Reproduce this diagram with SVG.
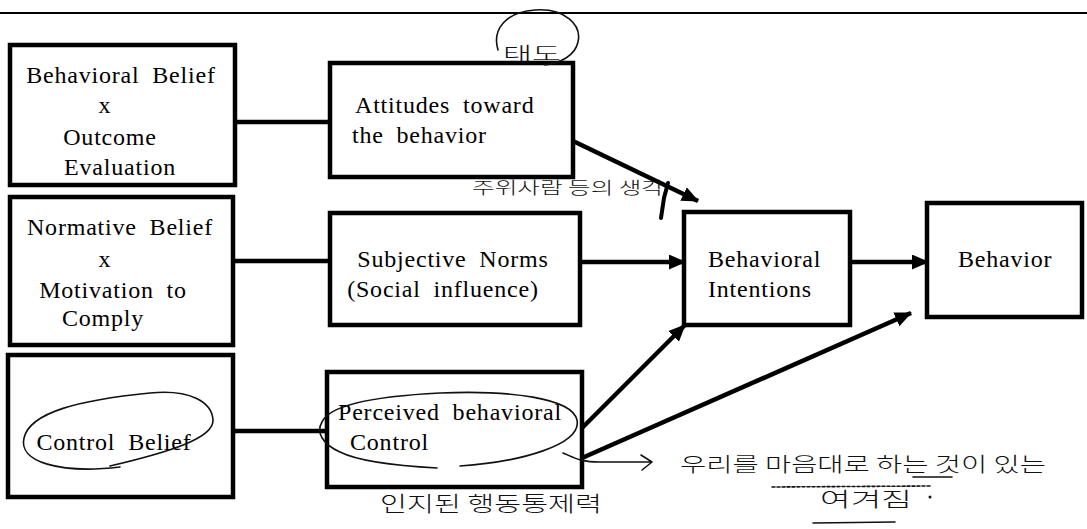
<svg xmlns="http://www.w3.org/2000/svg" width="1087" height="529" viewBox="0 0 1087 529">
<style>
.box{fill:#fff;stroke:#000;stroke-width:4.5}
.t,.ts{font-size:24px;fill:#000;letter-spacing:0.8px;word-spacing:6px}
.t{text-anchor:middle}
.ln{stroke:#000;stroke-width:4.5;fill:none}
.hand{stroke:#111;stroke-width:1.6;fill:none;stroke-linecap:round;stroke-linejoin:round}
.ht{font-family:"Noto Sans CJK KR","Noto Sans",sans-serif;font-weight:300;fill:#111}
</style>
<defs>
<marker id="ah" markerUnits="userSpaceOnUse" markerWidth="17" markerHeight="15" refX="16" refY="7.5" orient="auto">
<path d="M0,0 L17,7.5 L0,15 z" fill="#000"/>
</marker>
</defs>
<rect width="1087" height="529" fill="#fff"/>
<line x1="0" y1="13" x2="1087" y2="13" stroke="#000" stroke-width="2"/>

<g id="connectors">
<line class="ln" x1="235" y1="122" x2="330" y2="122"/>
<line class="ln" x1="233" y1="261" x2="330" y2="261"/>
<line class="ln" x1="233" y1="431" x2="327" y2="431"/>
<line class="ln" x1="573" y1="141" x2="698" y2="201" marker-end="url(#ah)"/>
<line class="ln" x1="580" y1="262" x2="685" y2="262" marker-end="url(#ah)"/>
<line class="ln" x1="582" y1="428" x2="685" y2="325" marker-end="url(#ah)"/>
<line class="ln" x1="582" y1="458" x2="911" y2="313" marker-end="url(#ah)"/>
<line class="ln" x1="850" y1="262" x2="928" y2="262" marker-end="url(#ah)"/>
</g>

<g font-family="Liberation Serif, Tinos, Times New Roman, DejaVu Serif, serif">
<g id="behavioral-belief">
<rect class="box" x="10" y="45" width="225" height="140"/>
<text class="t" x="121" y="83">Behavioral Belief</text>
<text class="t" x="105" y="113">x</text>
<text class="t" x="110" y="145">Outcome</text>
<text class="t" x="120" y="175">Evaluation</text>
</g>
<g id="normative-belief">
<rect class="box" x="10" y="197" width="223" height="148"/>
<text class="t" x="120" y="235">Normative Belief</text>
<text class="t" x="105" y="267">x</text>
<text class="t" x="113" y="298">Motivation to</text>
<text class="t" x="103" y="326">Comply</text>
</g>
<g id="control-belief">
<rect class="box" x="8" y="355" width="225" height="142"/>
<text class="t" x="114" y="450">Control Belief</text>
</g>
<g id="attitudes">
<rect class="box" x="330" y="63" width="243" height="114"/>
<text class="ts" x="355" y="113">Attitudes toward</text>
<text class="ts" x="352" y="143">the behavior</text>
</g>
<g id="subjective-norms">
<rect class="box" x="330" y="213" width="250" height="112"/>
<text class="t" x="453" y="267">Subjective Norms</text>
<text class="t" x="443" y="297">(Social influence)</text>
</g>
<g id="perceived-control">
<rect class="box" x="327" y="372" width="255" height="115"/>
<text class="ts" x="338" y="420">Perceived behavioral</text>
<text class="ts" x="350" y="450">Control</text>
</g>
<g id="behavioral-intentions">
<rect class="box" x="684" y="212" width="166" height="113"/>
<text class="ts" x="708" y="267">Behavioral</text>
<text class="ts" x="708" y="297">Intentions</text>
</g>
<g id="behavior">
<rect class="box" x="927" y="203" width="155" height="114"/>
<text class="ts" x="958" y="267">Behavior</text>
</g>
</g>

<g id="annotations">
<path class="hand" d="M120,467 C60,474 18,462 24,438 C30,412 80,400 150,393 C190,389 212,402 213,420 C214,438 170,452 110,466"/>
<path class="hand" d="M437,468 C400,466 360,462 340,452 C322,444 316,432 322,422 C330,404 380,396 440,393 C510,390 572,398 577,420 C582,445 520,462 460,466"/>
<path class="hand" d="M563,453 C575,458 580,462 600,462 L652,462 M641,455 L652,462 L642,470"/>
<path class="hand" d="M498,50 C492,30 505,12 535,10 C565,8 582,25 578,42 C575,56 560,63 545,65"/>
<text class="ht" x="503" y="61" font-size="19" textLength="58" lengthAdjust="spacingAndGlyphs">태도</text>
<text class="ht" x="472" y="194" font-size="17" textLength="192" lengthAdjust="spacingAndGlyphs">주위사람 등의 생각</text>
<path d="M668,183 L664,198 L661,218" stroke="#000" stroke-width="4" fill="none" stroke-linecap="round"/>
<text class="ht" x="380" y="511" font-size="21" textLength="222" lengthAdjust="spacingAndGlyphs">인지된 행동통제력</text>
<text class="ht" x="680" y="472" font-size="20" textLength="366" lengthAdjust="spacingAndGlyphs">우리를 마음대로 하는 것이 있는</text>
<line class="hand" x1="772" y1="487" x2="930" y2="486" stroke-dasharray="3,2" stroke-width="1"/>
<line class="hand" x1="913" y1="477" x2="952" y2="477"/>
<text class="ht" x="820" y="507" font-size="20" textLength="92" lengthAdjust="spacingAndGlyphs">여겨짐</text>
<circle cx="930" cy="497" r="1.5" fill="#111"/>
<line class="hand" x1="813" y1="523" x2="895" y2="522"/>
</g>
</svg>
